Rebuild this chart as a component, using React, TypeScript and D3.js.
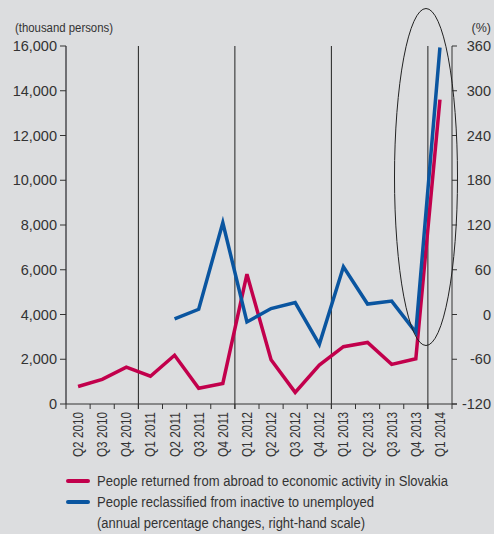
import React from "react";
import * as d3 from "d3";

const quarters = [
  "Q2 2010", "Q3 2010", "Q4 2010", "Q1 2011", "Q2 2011", "Q3 2011", "Q4 2011",
  "Q1 2012", "Q2 2012", "Q3 2012", "Q4 2012", "Q1 2013", "Q2 2013", "Q3 2013",
  "Q4 2013", "Q1 2014",
];

// Returned from abroad (thousand persons, left scale)
const returnedAbroad: (number | null)[] = [
  780, 1100, 1650, 1240, 2180, 700, 920, 5800, 1980, 520, 1740, 2560, 2750, 1770, 2020, 13600,
];

// Reclassified from inactive to unemployed (annual % change, right scale)
const reclassified: (number | null)[] = [
  null, null, null, null, -6, 7, 123, -10, 8, 16, -40, 64, 14, 18, -24, 358,
];

const leftTicks = [0, 2000, 4000, 6000, 8000, 10000, 12000, 14000, 16000];
const rightTicks = [-120, -60, 0, 60, 120, 180, 240, 300, 360];
const yearStarts = ["Q1 2011", "Q1 2012", "Q1 2013", "Q1 2014"];

const legendItems = [
  { label: "People returned from abroad to economic activity in Slovakia", color: "#c2004c", len: 351 },
  { label: "People reclassified from inactive to unemployed", color: "#0a55a0", len: 277 },
];
const legendNote = "(annual percentage changes, right-hand scale)";

const FONT = "'Liberation Sans', Arial, sans-serif";
const TEXT = "#333";

export default function App() {
  const W = 494;
  const H = 534;
  const left = 66;
  const right = 452;
  const top = 46;
  const bottom = 404;

  const x = d3.scaleBand<string>().domain(quarters).range([left, right]);
  const yL = d3.scaleLinear().domain([0, 16000]).range([bottom, top]);
  const yR = d3.scaleLinear().domain([-120, 360]).range([bottom, top]);
  const cx = (q: string) => (x(q) as number) + x.bandwidth() / 2;

  const redLine = d3
    .line<number | null>()
    .defined((d) => d != null)
    .x((_, i) => cx(quarters[i]))
    .y((d) => yL(d as number));
  const blueLine = d3
    .line<number | null>()
    .defined((d) => d != null)
    .x((_, i) => cx(quarters[i]))
    .y((d) => yR(d as number));

  const fmt = d3.format(",");
  const edges = quarters.map((q) => x(q) as number).concat([right]);

  return (
    <svg width={W} height={H} style={{ position: "absolute", left: 0, top: 0, background: "#dcdddf" }}>
      <rect x={0} y={0} width={W} height={H} fill="#dcdddf" />

      {/* year separators */}
      {yearStarts.map((q) => (
        <line key={q} x1={x(q)} x2={x(q)} y1={top} y2={bottom + 5} stroke="#222" strokeWidth={1} />
      ))}

      {/* left axis */}
      <line x1={left} x2={left} y1={top} y2={bottom} stroke="#6f6f73" strokeWidth={2} />
      {leftTicks.map((t) => (
        <g key={t}>
          <line x1={left - 6} x2={left} y1={yL(t)} y2={yL(t)} stroke="#333" strokeWidth={1} />
          <text x={left - 9} y={yL(t)} dy="0.35em" textAnchor="end" fontSize={14.5} fill={TEXT} fontFamily={FONT}>
            {fmt(t)}
          </text>
        </g>
      ))}
      <text x={15} y={32} fontSize={12.5} fill={TEXT} fontFamily={FONT} textLength={98} lengthAdjust="spacingAndGlyphs">
        (thousand persons)
      </text>

      {/* right axis */}
      <line x1={right} x2={right} y1={top} y2={bottom} stroke="#333" strokeWidth={1} />
      {rightTicks.map((t) => (
        <g key={t}>
          <line x1={right} x2={right + 5} y1={yR(t)} y2={yR(t)} stroke="#333" strokeWidth={1} />
          <text x={491} y={yR(t)} dy="0.35em" textAnchor="end" fontSize={14.5} fill={TEXT} fontFamily={FONT}>
            {t}
          </text>
        </g>
      ))}
      <text x={491} y={32} textAnchor="end" fontSize={12.5} fill={TEXT} fontFamily={FONT}>(%)</text>

      {/* x axis */}
      <line x1={left} x2={right + 5} y1={bottom} y2={bottom} stroke="#333" strokeWidth={1} />
      {edges.map((e, i) => (
        <line key={i} x1={e} x2={e} y1={bottom} y2={bottom + 5} stroke="#333" strokeWidth={1} />
      ))}
      {quarters.map((q) => (
        <text
          key={q}
          transform={`translate(${cx(q) + 5},${bottom + 8}) rotate(-90)`}
          textAnchor="end"
          fontSize={14}
          fill={TEXT}
          fontFamily={FONT}
          textLength={45}
          lengthAdjust="spacingAndGlyphs"
        >
          {q}
        </text>
      ))}

      {/* series */}
      <path d={redLine(returnedAbroad) ?? ""} fill="none" stroke="#c2004c" strokeWidth={3.5} strokeLinejoin="miter" />
      <path d={blueLine(reclassified) ?? ""} fill="none" stroke="#0a55a0" strokeWidth={3.5} strokeLinejoin="miter" />

      {/* highlight ellipse */}
      <ellipse cx={426} cy={177} rx={31.5} ry={168.5} fill="none" stroke="#222" strokeWidth={1} />

      {/* legend */}
      {legendItems.map((it, i) => (
        <g key={it.label} transform={`translate(0,${481 + i * 21})`}>
          <line x1={68} x2={88} y1={0} y2={0} stroke={it.color} strokeWidth={4} strokeLinecap="round" />
          <text x={97} y={0} dy="0.35em" fontSize={14} fill={TEXT} fontFamily={FONT} textLength={it.len} lengthAdjust="spacingAndGlyphs">
            {it.label}
          </text>
        </g>
      ))}
      <text x={97} y={523} dy="0.35em" fontSize={14} fill={TEXT} fontFamily={FONT} textLength={268} lengthAdjust="spacingAndGlyphs">
        {legendNote}
      </text>
    </svg>
  );
}
